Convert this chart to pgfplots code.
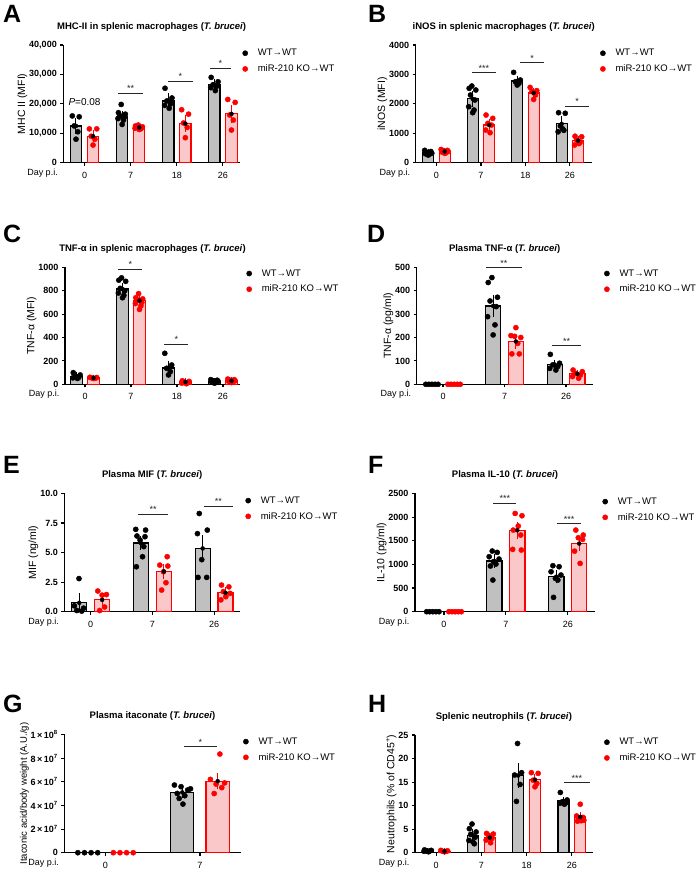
\documentclass[border=0pt]{standalone}
\usepackage{fontspec}
\setmainfont{Liberation Sans}
\usepackage{pgfplots}
\pgfplotsset{compat=1.18}

\definecolor{wtgray}{RGB}{192,192,192}
\definecolor{kopink}{RGB}{250,200,200}
\definecolor{kored}{RGB}{255,0,0}

\newcommand{\fs}[1]{\fontsize{#1}{#1}\selectfont}

\pgfplotsset{
  prism/.style={
    scale only axis, anchor=south west, clip=false,
    axis x line*=bottom, axis y line*=left,
    axis line style={line width=1.2pt},
    ymin=0,
    tick align=outside, major tick length=3pt,
    every tick/.style={black, line width=1.1pt},
    yticklabel style={font=\bfseries\fs{9}},
    xticklabel style={font=\fs{9}, anchor=base, yshift=-12.5pt},
    /pgf/number format/assume math mode=true,
    /pgf/number format/1000 sep={},
    scaled y ticks=false,
    ylabel style={font=\fs{10.5}},
    ylabel shift=-5pt,
    title style={font=\bfseries\fs{9.5}, at={(0.5,1)}, anchor=base, yshift=10pt},
    legend style={draw=none, fill=none, font=\fs{9.5}, anchor=north west,
      at={(axis description cs:1,1)}, row sep=3.5pt,
      /tikz/every odd column/.append style={column sep=8pt}},
    legend cell align=left,
  },
  wtbar/.style={ybar, bar width=0.245, bar shift=0pt, fill=wtgray, draw=black, line width=1.2pt, forget plot},
  kobar/.style={ybar, bar width=0.245, bar shift=0pt, fill=kopink, draw=kored, line width=1.2pt, forget plot},
  wtdot/.style={only marks, mark=*, mark size=2.6pt, black, forget plot},
  kodot/.style={only marks, mark=*, mark size=2.6pt, kored, forget plot},
  wterr/.style={only marks, mark=none, forget plot, error bars/.cd, y dir=both, y explicit,
    error bar style={line width=1pt, black}, error mark options={mark size=3pt, line width=1pt, black}},
  koerr/.style={only marks, mark=none, forget plot, error bars/.cd, y dir=both, y explicit,
    error bar style={line width=1pt, kored}, error mark options={mark size=3pt, line width=1pt, kored}},
}

\newcommand{\leg}{%
  \addlegendimage{only marks, mark=*, mark size=2.6pt, black}
  \addlegendentry{WT→WT}
  \addlegendimage{only marks, mark=*, mark size=2.6pt, kored}
  \addlegendentry{miR-210 KO→WT}
  \node[anchor=base east, xshift=-2pt, yshift=-12.5pt, font=\fs{9}] at (axis description cs:0,0) {Day p.i.};
}
\newcommand{\sig}[4]{% x1, x2, y, stars
  \draw[line width=0.8pt, black!85] (axis cs:#1,#3) -- (axis cs:#2,#3)
    node[midway, above, inner sep=1pt, font=\fs{9}] {#4};
}
\newcommand{\letter}[3]{\node[anchor=base west, inner sep=0pt, font=\bfseries\fs{25}] at (#1pt,-#2pt) {#3};}

\begin{document}
\begin{tikzpicture}
\useasboundingbox (0,0) rectangle (700pt,-870pt);

\letter{3}{22}{A}\letter{368}{22}{B}
\letter{3}{242}{C}\letter{367}{242}{D}
\letter{3}{473}{E}\letter{368}{473}{F}
\letter{3}{712}{G}\letter{368}{712}{H}

% ---------- A ----------
\begin{axis}[prism, at={(63.3pt,-162.7pt)}, width=176.7pt, height=117.7pt,
  xmin=-0.46, xmax=3.37, ymax=40000,
  xtick={0,1,2,3}, xticklabels={0,7,18,26},
  ytick={0,10000,20000,30000,40000}, /pgf/number format/1000 sep={,},
  ylabel={MHC II (MFI)},
  title={MHC-II in splenic macrophages (\textit{T. brucei})},
  legend style={xshift=-0.6pt, yshift=0pt}]
\addplot[wtbar] coordinates {(-0.185,12500) (0.815,15700) (1.815,21000) (2.815,26500)};
\addplot[kobar] coordinates {(0.185,9000) (1.185,12000) (2.185,13300) (3.185,16600)};
\addplot[wtdot] coordinates {(-0.265,15900) (-0.115,15600) (-0.225,12500) (-0.145,10500) (-0.185,8000)
  (0.795,19800) (0.735,17000) (0.885,16500) (0.765,16000) (0.865,15500) (0.725,15000) (0.845,14500) (0.815,13000)
  (1.745,25300) (1.895,22000) (1.785,21000) (1.865,20000) (1.735,19500) (1.835,18500)
  (2.745,29000) (2.895,27500) (2.785,26500) (2.865,26000) (2.735,25500) (2.835,24500)};
\addplot[kodot] coordinates {(0.105,11500) (0.265,11500) (0.145,9000) (0.225,8000) (0.185,6000)
  (1.165,12800) (1.105,12500) (1.255,12200) (1.135,12000) (1.235,11800) (1.095,11700) (1.215,11500) (1.185,11300)
  (2.105,18000) (2.255,16500) (2.145,13500) (2.225,12000) (2.185,8500)
  (3.105,21500) (3.265,20500) (3.145,16200) (3.225,14500) (3.185,11100)};
\addplot[wterr] coordinates {(-0.185,12500) +- (0,1700) (0.815,15700) +- (0,800) (1.815,21000) +- (0,1500) (2.815,26500) +- (0,1000)};
\addplot[koerr] coordinates {(0.185,9000) +- (0,1000) (1.185,12000) +- (0,300) (2.185,13300) +- (0,1800) (3.185,16600) +- (0,2000)};
\sig{0.73}{1.27}{23570}{**}
\sig{1.81}{2.35}{27760}{*}
\sig{2.71}{3.18}{32060}{*}
\node[font=\fs{10}] at (axis cs:0,20700) {\textit{P}=0.08};
\leg
\end{axis}

% ---------- B ----------
\begin{axis}[prism, at={(415.7pt,-162.7pt)}, width=176pt, height=117.7pt,
  xmin=-0.467, xmax=3.49, ymax=4000,
  xtick={0,1,2,3}, xticklabels={0,7,18,26},
  ytick={0,1000,2000,3000,4000},
  ylabel={iNOS (MFI)},
  title={iNOS in splenic macrophages (\textit{T. brucei})},
  legend style={xshift=5.4pt, yshift=0pt}]
\addplot[wtbar] coordinates {(-0.185,330) (0.815,2170) (1.815,2780) (2.815,1320)};
\addplot[kobar] coordinates {(0.185,380) (1.185,1280) (2.185,2370) (3.185,750)};
\addplot[wtdot] coordinates {(-0.265,420) (-0.125,380) (-0.215,350) (-0.105,320) (-0.245,300) (-0.165,280) (-0.185,260)
  (0.795,2606) (0.735,2527) (0.885,2470) (0.765,2300) (0.865,2130) (0.725,1904) (0.845,1790) (0.815,1700)
  (1.735,3070) (1.885,2810) (1.775,2750) (1.855,2700) (1.815,2640)
  (2.745,1700) (2.895,1680) (2.785,1250) (2.865,1100) (2.735,1050) (2.835,1150)};
\addplot[kodot] coordinates {(0.105,450) (0.245,420) (0.155,400) (0.265,380) (0.125,360) (0.205,330) (0.185,320)
  (1.115,1620) (1.265,1507) (1.155,1337) (1.235,1280) (1.105,1110) (1.205,1020)
  (2.105,2560) (2.255,2450) (2.145,2420) (2.225,2300) (2.185,2150)
  (3.115,900) (3.265,880) (3.155,770) (3.235,700) (3.105,600) (3.205,650)};
\addplot[wterr] coordinates {(-0.185,330) +- (0,40) (0.815,2170) +- (0,170) (1.815,2780) +- (0,80) (2.815,1320) +- (0,150)};
\addplot[koerr] coordinates {(0.185,380) +- (0,30) (1.185,1280) +- (0,100) (2.185,2370) +- (0,80) (3.185,750) +- (0,70)};
\sig{0.79}{1.34}{3060}{***}
\sig{1.88}{2.42}{3400}{*}
\sig{2.89}{3.44}{1926}{*}
\leg
\end{axis}

% ---------- C ----------
\begin{axis}[prism, at={(65pt,-384.3pt)}, width=175pt, height=117pt,
  xmin=-0.435, xmax=3.37, ymax=1000,
  xtick={0,1,2,3}, xticklabels={0,7,18,26},
  ytick={0,200,400,600,800,1000},
  ylabel={TNF-α (MFI)},
  title={TNF-α in splenic macrophages (\textit{T. brucei})},
  legend style={xshift=3.4pt, yshift=2pt}]
\addplot[wtbar] coordinates {(-0.185,70) (0.815,815) (1.815,140) (2.815,25)};
\addplot[kobar] coordinates {(0.185,55) (1.185,715) (2.185,20) (3.185,30)};
\addplot[wtdot] coordinates {(-0.255,100) (-0.105,80) (-0.215,70) (-0.135,60) (-0.265,55) (-0.165,50)
  (0.795,910) (0.735,890) (0.885,880) (0.765,820) (0.865,800) (0.725,780) (0.845,760) (0.815,740)
  (1.735,265) (1.885,165) (1.775,137) (1.855,108) (1.815,80)
  (2.735,40) (2.875,35) (2.785,30) (2.895,25) (2.755,20) (2.835,15) (2.815,10)};
\addplot[kodot] coordinates {(0.105,60) (0.255,58) (0.145,55) (0.225,52) (0.185,50)
  (1.165,775) (1.105,740) (1.255,730) (1.135,720) (1.235,700) (1.095,690) (1.215,670) (1.185,640)
  (2.115,30) (2.265,25) (2.155,20) (2.235,15) (2.105,10) (2.205,5)
  (3.105,45) (3.245,40) (3.155,35) (3.265,30) (3.125,25) (3.205,20) (3.185,15)};
\addplot[wterr] coordinates {(-0.185,70) +- (0,10) (0.815,815) +- (0,25) (1.815,140) +- (0,30) (2.815,25) +- (0,5)};
\addplot[koerr] coordinates {(0.185,55) +- (0,3) (1.185,715) +- (0,15) (2.185,20) +- (0,5) (3.185,30) +- (0,5)};
\sig{0.72}{1.25}{983}{*}
\sig{1.72}{2.25}{345}{*}
\leg
\end{axis}

% ---------- D ----------
\begin{axis}[prism, at={(416.7pt,-384.3pt)}, width=176pt, height=117pt,
  xmin=-0.428, xmax=2.434, ymax=500,
  xtick={0,1,2}, xticklabels={0,7,26},
  ytick={0,100,200,300,400,500},
  ylabel={TNF-α (pg/ml)},
  title={Plasma TNF-α (\textit{T. brucei})},
  legend style={xshift=8.4pt, yshift=2pt}]
\addplot[wtbar] coordinates {(-0.185,0) (0.815,335) (1.815,85)};
\addplot[kobar] coordinates {(0.185,0) (1.185,183) (2.185,45)};
\addplot[wtdot] coordinates {(-0.28,0) (-0.23,0) (-0.18,0) (-0.13,0) (-0.08,0)
  (0.795,456) (0.735,435) (0.885,372) (0.765,356) (0.865,332) (0.725,289) (0.845,254) (0.815,211)
  (1.745,128) (1.895,90) (1.785,83) (1.865,76) (1.735,68) (1.835,61)};
\addplot[kodot] coordinates {(0.08,0) (0.13,0) (0.18,0) (0.23,0) (0.28,0)
  (1.185,242) (1.105,208) (1.165,205) (1.265,200) (1.215,175) (1.12,130) (1.24,130)
  (2.115,61) (2.265,54) (2.155,47) (2.235,40) (2.105,33) (2.205,26)};
\addplot[wterr] coordinates {(0.815,335) +- (0,35) (1.815,85) +- (0,8)};
\addplot[koerr] coordinates {(1.185,183) +- (0,20) (2.185,45) +- (0,5)};
\sig{0.70}{1.28}{498.6}{**}
\sig{1.77}{2.25}{165}{**}
\leg
\end{axis}

% ---------- E ----------
\begin{axis}[prism, at={(64.3pt,-611.7pt)}, width=175.7pt, height=118.3pt,
  xmin=-0.428, xmax=2.42, ymax=10,
  xtick={0,1,2}, xticklabels={0,7,26},
  ytick={0,2.5,5,7.5,10},
  yticklabel style={/pgf/number format/.cd, fixed, fixed zerofill, precision=1},
  ylabel={MIF (ng/ml)},
  title={Plasma MIF (\textit{T. brucei})},
  legend style={xshift=2.4pt, yshift=1pt}]
\addplot[wtbar] coordinates {(-0.185,0.75) (0.815,5.8) (1.815,5.35)};
\addplot[kobar] coordinates {(0.185,1.0) (1.185,3.4) (2.185,1.6)};
\addplot[wtdot] coordinates {(-0.19,2.8) (-0.265,0.5) (-0.115,0.3) (-0.225,0.1) (-0.145,0.05)
  (0.73,6.96) (0.89,6.9) (0.75,6.4) (0.88,6.34) (0.8,6.06) (0.86,5.5) (0.84,4.65) (0.74,3.8)
  (1.76,8.3) (1.89,6.9) (1.73,6.6) (1.8,4.4) (1.74,2.9) (1.88,2.9)};
\addplot[kodot] coordinates {(0.115,1.75) (0.255,1.45) (0.185,1.4) (0.225,0.4) (0.145,0.1)
  (1.24,4.65) (1.12,3.94) (1.25,3.86) (1.18,3.38) (1.22,2.45) (1.15,1.83)
  (2.12,2.25) (2.24,2.1) (2.15,1.7) (2.26,1.55) (2.19,1.27) (2.11,1.0)};
\addplot[wterr] coordinates {(-0.185,0.75) +- (0,0.55) (0.815,5.8) +- (0,0.35) (1.815,5.35) +- (0,0.85)};
\addplot[koerr] coordinates {(0.185,1.0) +- (0,0.3) (1.185,3.4) +- (0,0.4) (2.185,1.6) +- (0,0.2)};
\sig{0.76}{1.26}{8.23}{**}
\sig{1.83}{2.31}{8.93}{**}
\leg
\end{axis}

% ---------- F ----------
\begin{axis}[prism, at={(415pt,-611.7pt)}, width=180pt, height=118.3pt,
  xmin=-0.468, xmax=2.44, ymax=2500,
  xtick={0,1,2}, xticklabels={0,7,26},
  ytick={0,500,1000,1500,2000,2500},
  ylabel={IL-10 (pg/ml)},
  title={Plasma IL-10 (\textit{T. brucei})},
  legend style={xshift=4.4pt, yshift=0pt}]
\addplot[wtbar] coordinates {(-0.185,0) (0.815,1070) (1.815,740)};
\addplot[kobar] coordinates {(0.185,0) (1.185,1720) (2.185,1440)};
\addplot[wtdot] coordinates {(-0.28,0) (-0.23,0) (-0.18,0) (-0.13,0) (-0.08,0)
  (0.78,1282) (0.86,1254) (0.73,1162) (0.89,1113) (0.8,1056) (0.84,1007) (0.75,965) (0.79,669)
  (1.76,972) (1.86,951) (1.73,845) (1.89,775) (1.8,704) (1.84,669) (1.77,303)};
\addplot[kodot] coordinates {(0.08,0) (0.13,0) (0.18,0) (0.23,0) (0.28,0)
  (1.15,2077) (1.26,2028) (1.2,1810) (1.12,1725) (1.24,1620) (1.11,1317) (1.25,1303)
  (2.13,1725) (2.25,1620) (2.17,1563) (2.24,1528) (2.11,1280) (2.2,1021)};
\addplot[wterr] coordinates {(0.815,1070) +- (0,80) (1.815,740) +- (0,80)};
\addplot[koerr] coordinates {(1.185,1720) +- (0,110) (2.185,1440) +- (0,90)};
\sig{0.80}{1.17}{2289}{***}
\sig{1.82}{2.22}{1866}{***}
\leg
\end{axis}

% ---------- G ----------
\begin{axis}[prism, at={(64.3pt,-852.7pt)}, width=176.4pt, height=118.3pt,
  xmin=-0.433, xmax=1.43, ymax=10,
  xtick={0,1}, xticklabels={0,7},
  ytick={0,2,4,6,8,10},
  yticklabels={0,{2\,×\,10\textsuperscript{7}},{4\,×\,10\textsuperscript{7}},{6\,×\,10\textsuperscript{7}},{8\,×\,10\textsuperscript{7}},{1\,×\,10\textsuperscript{8}}},
  ylabel={Itaconic acid/body weight (A.U./g)},
  ylabel style={font=\fs{9.5}},
  title={Plasma itaconate (\textit{T. brucei})},
  legend style={xshift=-0.6pt, yshift=1pt}]
\addplot[wtbar] coordinates {(-0.187,0) (0.813,5.1)};
\addplot[kobar] coordinates {(0.187,0) (1.187,6.05)};
\addplot[wtdot] coordinates {(-0.29,0) (-0.22,0) (-0.15,0) (-0.08,0)
  (0.73,5.72) (0.80,5.58) (0.9,5.4) (0.87,5.3) (0.76,5.01) (0.84,4.82) (0.78,4.59) (0.82,4.11)};
\addplot[kodot] coordinates {(0.085,0) (0.155,0) (0.225,0) (0.295,0)
  (1.21,8.34) (1.11,6.2) (1.26,5.9) (1.17,5.8) (1.23,5.5) (1.15,5.0)};
\addplot[wterr] coordinates {(0.813,5.1) +- (0,0.2)};
\addplot[koerr] coordinates {(1.187,6.05) +- (0,0.4)};
\sig{0.83}{1.18}{8.96}{*}
\leg
\end{axis}

% ---------- H ----------
\begin{axis}[prism, at={(415pt,-852.7pt)}, width=177.7pt, height=117.7pt,
  xmin=-0.465, xmax=3.46, ymax=25,
  xtick={0,1,2,3}, xticklabels={0,7,18,26},
  ytick={0,5,10,15,20,25},
  ylabel={Neutrophils (\% of CD45\textsuperscript{+})},
  title={Splenic neutrophils (\textit{T. brucei})},
  legend style={xshift=8.4pt, yshift=1pt}]
\addplot[wtbar] coordinates {(-0.185,0.4) (0.815,3.7) (1.815,16.4) (2.815,11.0)};
\addplot[kobar] coordinates {(0.185,0.3) (1.185,3.2) (2.185,15.5) (3.185,7.6)};
\addplot[wtdot] coordinates {(-0.255,0.6) (-0.105,0.5) (-0.215,0.4) (-0.135,0.4) (-0.265,0.3) (-0.165,0.2)
  (0.795,6.1) (0.735,5.1) (0.885,4.4) (0.765,3.9) (0.865,3.3) (0.725,2.6) (0.845,1.9) (0.815,2.3)
  (1.8,23.2) (1.89,17.0) (1.735,16.5) (1.855,14.5) (1.775,10.9)
  (2.745,12.8) (2.895,11.2) (2.785,10.8) (2.865,10.6) (2.735,10.5) (2.835,10.3)};
\addplot[kodot] coordinates {(0.105,0.5) (0.255,0.4) (0.145,0.3) (0.225,0.3) (0.185,0.2)
  (1.115,4.1) (1.265,3.97) (1.155,3.75) (1.235,3.05) (1.105,2.69) (1.205,2.12)
  (2.105,17.0) (2.255,16.85) (2.145,15.4) (2.225,14.7) (2.185,14.0)
  (3.185,10.3) (3.105,7.8) (3.245,7.5) (3.155,7.2) (3.265,6.9) (3.125,6.7) (3.205,6.8)};
\addplot[wterr] coordinates {(-0.185,0.4) +- (0,0.05) (0.815,3.7) +- (0,0.7) (1.815,16.4) +- (0,2.0) (2.815,11.0) +- (0,0.3)};
\addplot[koerr] coordinates {(0.185,0.3) +- (0,0.05) (1.185,3.2) +- (0,0.4) (2.185,15.5) +- (0,0.6) (3.185,7.6) +- (0,0.4)};
\sig{2.82}{3.40}{14.87}{***}
\leg
\end{axis}
\end{tikzpicture}
\end{document}
